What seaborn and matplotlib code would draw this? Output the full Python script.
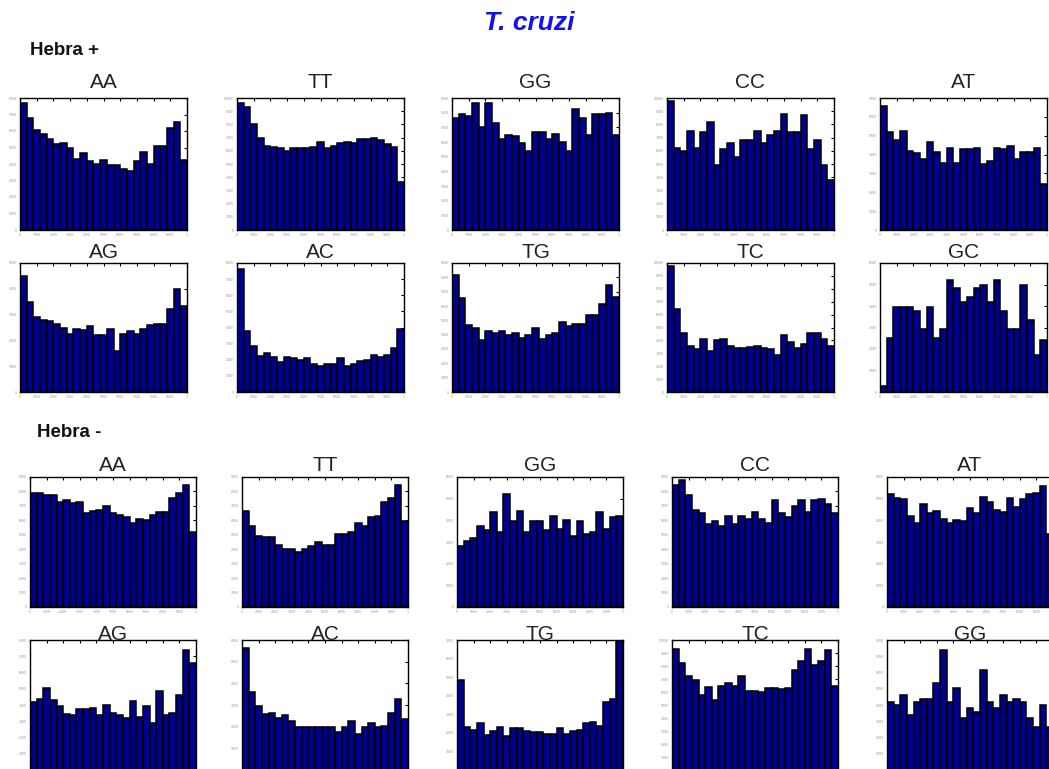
import numpy as np
import pandas as pd
import matplotlib
matplotlib.use("Agg")
import matplotlib.pyplot as plt
import seaborn as sns

sns.set_style("white")
plt.rcParams["font.family"] = ["Liberation Sans", "DejaVu Sans"]

# ---------------- data (bar heights, % of panel height) ----------------
plus_titles = ["AA", "TT", "GG", "CC", "AT", "AG", "AC", "TG", "TC", "GC"]
minus_titles = ["AA", "TT", "GG", "CC", "AT", "AG", "AC", "TG", "TC", "GG"]

plus_AA = [96, 85, 76, 73, 69, 65, 66, 62, 54, 58, 52, 50, 53, 49, 49, 46, 45, 52, 59, 50, 64, 64, 77, 82, 53]
plus_TT = [96, 93, 80, 70, 64, 63, 62, 60, 62, 62, 62, 63, 67, 62, 64, 66, 67, 66, 69, 69, 70, 68, 65, 63, 36]
plus_GG = [85, 88, 86, 96, 78, 96, 81, 69, 72, 71, 66, 60, 74, 74, 69, 73, 67, 60, 92, 85, 72, 88, 88, 89, 72]
plus_CC = [98, 62, 60, 75, 62, 74, 82, 49, 61, 66, 55, 68, 68, 75, 66, 72, 75, 88, 74, 74, 87, 61, 68, 49, 38]
plus_AT = [94, 74, 68, 75, 60, 58, 54, 67, 59, 51, 62, 51, 61, 61, 62, 50, 52, 62, 61, 64, 54, 59, 59, 62, 35]
plus_AG = [90, 70, 58, 56, 55, 53, 50, 45, 49, 48, 51, 44, 44, 49, 32, 45, 47, 45, 49, 52, 53, 53, 64, 80, 67]
plus_AC = [95, 47, 36, 28, 30, 27, 23, 27, 26, 25, 26, 22, 20, 22, 22, 26, 20, 22, 24, 25, 29, 27, 29, 34, 49]
plus_TG = [91, 73, 52, 50, 40, 47, 46, 47, 44, 46, 42, 44, 50, 41, 44, 46, 54, 51, 53, 53, 60, 60, 68, 83, 74]
plus_TC = [98, 64, 46, 36, 33, 41, 32, 40, 41, 36, 34, 34, 35, 36, 34, 33, 29, 44, 39, 34, 37, 46, 46, 41, 36]
plus_GC = [5, 42, 66, 66, 66, 63, 49, 66, 42, 49, 87, 81, 70, 74, 81, 83, 70, 87, 63, 49, 49, 83, 56, 29, 40]

minus_AA = [88, 88, 86, 86, 81, 82, 80, 81, 72, 74, 75, 78, 72, 71, 69, 65, 68, 67, 71, 73, 73, 84, 88, 94, 58]
minus_TT = [74, 62, 55, 54, 54, 48, 45, 45, 42, 45, 47, 50, 48, 48, 56, 56, 58, 65, 62, 69, 70, 81, 84, 94, 66]
minus_GG = [47, 51, 53, 62, 59, 73, 58, 87, 66, 74, 58, 66, 66, 59, 70, 60, 67, 55, 66, 56, 58, 73, 60, 69, 70]
minus_CC = [94, 98, 86, 75, 72, 64, 66, 62, 70, 64, 70, 68, 73, 68, 65, 82, 72, 69, 78, 82, 73, 82, 83, 79, 72]
minus_AT = [87, 84, 83, 70, 65, 79, 72, 74, 68, 65, 67, 66, 76, 72, 85, 81, 75, 73, 84, 77, 83, 87, 88, 93, 56]
minus_AG = [52, 55, 63, 54, 49, 43, 42, 47, 47, 48, 42, 50, 44, 42, 40, 53, 41, 49, 36, 61, 42, 44, 58, 92, 82]
minus_AC = [94, 60, 49, 43, 44, 40, 42, 38, 33, 33, 33, 33, 33, 33, 29, 33, 38, 28, 33, 36, 33, 34, 44, 55, 39]
minus_TG = [69, 33, 31, 36, 27, 30, 33, 26, 32, 32, 30, 29, 29, 28, 28, 32, 28, 30, 31, 36, 37, 34, 52, 55, 100]
minus_TC = [93, 82, 72, 69, 58, 64, 54, 65, 67, 65, 72, 61, 61, 60, 63, 63, 62, 63, 77, 84, 93, 81, 84, 92, 65]
minus_GG2 = [52, 50, 58, 42, 52, 55, 55, 67, 92, 52, 63, 40, 48, 45, 77, 52, 48, 58, 52, 55, 52, 40, 33, 50, 33]

plus_series = [plus_AA, plus_TT, plus_GG, plus_CC, plus_AT,
               plus_AG, plus_AC, plus_TG, plus_TC, plus_GC]
minus_series = [minus_AA, minus_TT, minus_GG, minus_CC, minus_AT,
                minus_AG, minus_AC, minus_TG, minus_TC, minus_GG2]

# number of y-tick intervals per panel (approximate)
plus_ydiv = [8, 10, 9, 10, 7, 5, 8, 9, 10, 6]
minus_ydiv = [9, 9, 6, 9, 6, 8, 6, 7, 10, 8]

# ---------------- layout (pixels) ----------------
W, H = 1049, 769
NAVY = "#00008E"
GRAY = "#9a9a9a"

fig = plt.figure(figsize=(W / 100, H / 100), dpi=100)

lefts_top = [20, 237, 452, 667, 880]
lefts_bot = [30, 242, 457, 672, 887]
row_top = [98, 263, 477, 640]
row_bot = [230, 392, 607, 770]
title_base = [88, 258, 471, 640]


def draw_panel(left, width, rtop, rbot, vals, title, tbase, ndiv,
               show_xlabels=True, clip_right=False):
    ax = fig.add_axes([left / W, 1 - rbot / H, width / W, (rbot - rtop) / H])
    df = pd.DataFrame({"bin": np.arange(len(vals)), "v": vals})
    sns.barplot(data=df, x="bin", y="v", color=NAVY, saturation=1,
                width=1.0, edgecolor="black", linewidth=1.1,
                errorbar=None, ax=ax)
    ax.set_xlim(-0.5, len(vals) - 0.5)
    ax.set_ylim(0, 100)
    ax.set_xlabel("")
    ax.set_ylabel("")
    xt = -0.5 + 2.5 * np.arange(11)
    ax.set_xticks(xt)
    xl = ["0"] + [str(1000 * k) for k in range(1, 10)] + ["1"]
    if clip_right:
        xl[-1] = ""
    if not show_xlabels:
        xl = [""] * len(xl)
    ax.set_xticklabels(xl)
    yt = np.linspace(0, 100, ndiv + 1)
    ax.set_yticks(yt)
    yl = ["0"] + [str(1000 * k) for k in range(1, ndiv + 1)]
    if not show_xlabels:
        yl[0] = ""
    ax.set_yticklabels(yl)
    ax.tick_params(direction="in", top=True, right=True, length=2.5,
                   width=0.8, color="black", labelcolor=GRAY,
                   labelsize=2.5, pad=2)
    for s in ax.spines.values():
        s.set_visible(True)
        s.set_color("black")
        s.set_linewidth(1.0)
    fig.text((left + width / 2) / W, 1 - tbase / H, title, ha="center",
             va="baseline", fontsize=15, color="#222222")
    return ax


for i in range(10):
    r = i // 5
    c = i % 5
    draw_panel(lefts_top[c], 167, row_top[r], row_bot[r],
               plus_series[i], plus_titles[i], title_base[r], plus_ydiv[i])

for i in range(10):
    r = 2 + i // 5
    c = i % 5
    draw_panel(lefts_bot[c], 166, row_top[r], row_bot[r],
               minus_series[i], minus_titles[i], title_base[r], minus_ydiv[i],
               show_xlabels=(r == 2), clip_right=(c == 4))

fig.text(529 / W, 1 - 30 / H, "T. cruzi", ha="center", va="baseline",
         fontsize=19, fontweight="bold", fontstyle="italic", color="#1010F0")
fig.text(30 / W, 1 - 55 / H, "Hebra +", ha="left", va="baseline",
         fontsize=13.5, fontweight="bold", color="#111111")
fig.text(37 / W, 1 - 437 / H, "Hebra -", ha="left", va="baseline",
         fontsize=13.5, fontweight="bold", color="#111111")

fig.savefig("out.png", dpi=100)
